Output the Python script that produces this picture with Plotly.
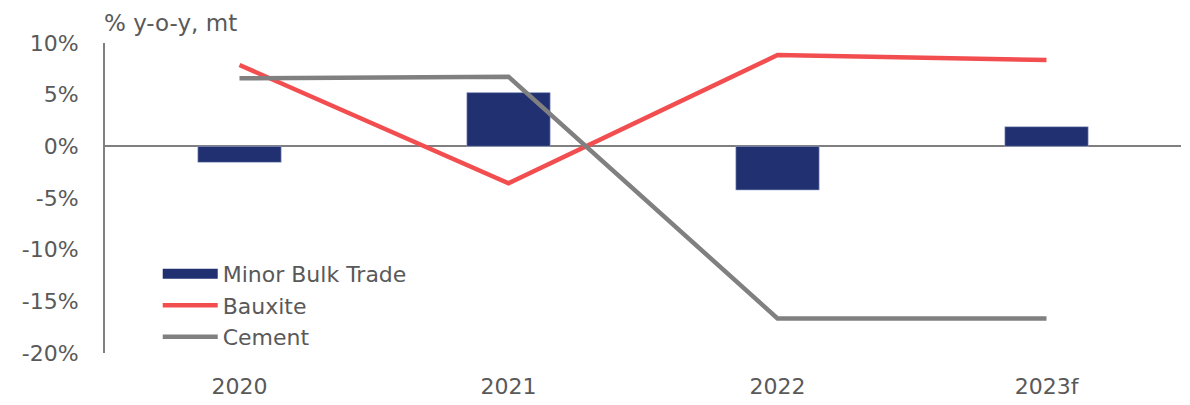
import plotly.graph_objects as go

categories = ["2020", "2021", "2022", "2023f"]
minor_bulk = [-1.55, 5.2, -4.23, 1.9]
bauxite = [7.87, -3.58, 8.84, 8.35]
cement = [6.58, 6.74, -16.65, -16.65]
y_ticks = [10, 5, 0, -5, -10, -15, -20]
y_tick_labels = [f"{v}%" for v in y_ticks]

FONT = "DejaVu Sans"
TXT = "#595959"
NAVY = "#203070"

fig = go.Figure()
fig.add_trace(go.Bar(x=categories, y=minor_bulk, name="Minor Bulk Trade", showlegend=False,
                     marker=dict(color=NAVY, line=dict(width=0.6, color="#aab3d6"))))
# legend-only entry to show a wide rectangular swatch for the bars
fig.add_trace(go.Scatter(x=[None], y=[None], name="Minor Bulk Trade", mode="lines",
                         line=dict(color=NAVY, width=13), showlegend=True))
fig.add_trace(go.Scatter(x=categories, y=bauxite, name="Bauxite", mode="lines",
                         line=dict(color="#F24E50", width=4.5)))
fig.add_trace(go.Scatter(x=categories, y=cement, name="Cement", mode="lines",
                         line=dict(color="#808080", width=4.5)))

fig.update_layout(
    width=1182, height=397,
    margin=dict(l=97, r=9, t=35, b=52, autoexpand=False),
    paper_bgcolor="white", plot_bgcolor="white",
    font=dict(family=FONT, size=22, color=TXT),
    bargap=0.69,
    showlegend=True,
    legend=dict(x=0.049, y=0.323, xanchor="left", yanchor="top",
                bgcolor="rgba(0,0,0,0)", font=dict(size=22, color=TXT),
                tracegroupgap=0, itemwidth=55),
    annotations=[dict(text="% y-o-y, mt", x=0, xref="paper", xanchor="left", xshift=-3,
                      y=1, yref="paper", yanchor="bottom", yshift=5, showarrow=False,
                      font=dict(size=23, color=TXT))],
)
fig.update_xaxes(showgrid=False, showline=False, zeroline=False, automargin=False,
                 ticklabelstandoff=18, tickfont=dict(size=22, color=TXT))
fig.update_yaxes(range=[-20, 10], tickvals=y_ticks, ticktext=y_tick_labels, automargin=False,
                 showgrid=False, showline=True, linecolor="#7f7f7f", linewidth=2,
                 zeroline=True, zerolinecolor="#7f7f7f", zerolinewidth=2,
                 ticklabelstandoff=20, tickfont=dict(size=22, color=TXT))

fig.write_html("out.html")
